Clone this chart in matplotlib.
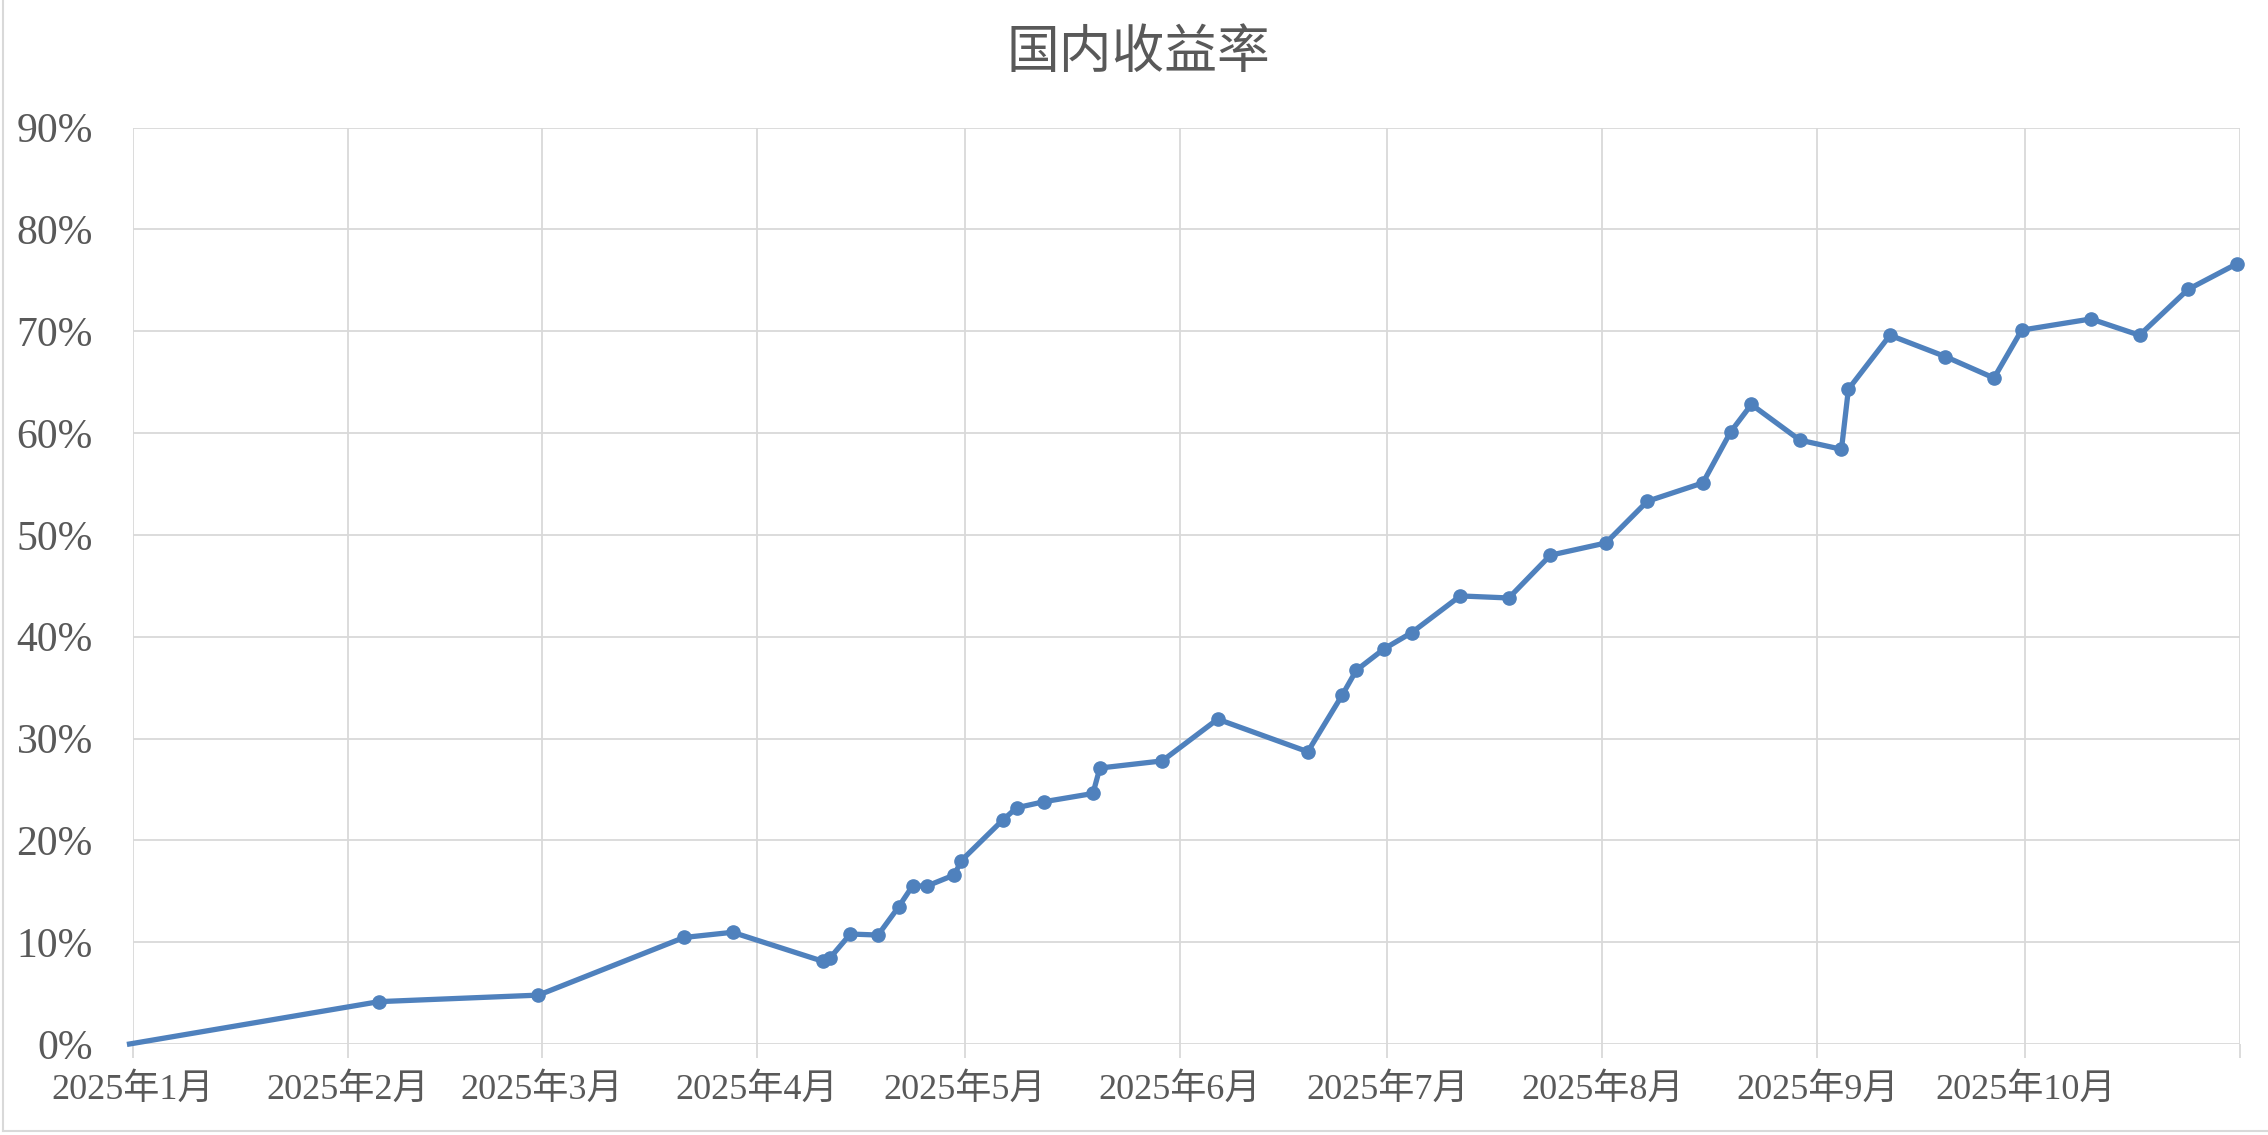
import matplotlib
matplotlib.use("Agg")
import matplotlib.pyplot as plt
from matplotlib.lines import Line2D
import pandas as pd

plt.rcParams['font.family'] = ['Liberation Serif', 'Noto Sans CJK SC', 'DejaVu Sans']

title = "国内收益率"

dates = ["2024-12-31", "2025-02-05", "2025-02-28", "2025-03-21", "2025-03-28",
         "2025-04-10", "2025-04-11", "2025-04-14", "2025-04-18", "2025-04-21",
         "2025-04-23", "2025-04-25", "2025-04-29", "2025-04-30", "2025-05-06",
         "2025-05-08", "2025-05-12", "2025-05-19", "2025-05-20", "2025-05-29",
         "2025-06-06", "2025-06-19", "2025-06-24", "2025-06-26", "2025-06-30",
         "2025-07-04", "2025-07-11", "2025-07-18", "2025-07-24", "2025-08-01",
         "2025-08-07", "2025-08-15", "2025-08-19", "2025-08-22", "2025-08-29",
         "2025-09-04", "2025-09-05", "2025-09-11", "2025-09-19", "2025-09-26",
         "2025-09-30", "2025-10-10", "2025-10-17", "2025-10-24", "2025-10-31"]

returns_pct = [0.0, 4.16, 4.8, 10.46, 10.97,
               8.13, 8.4, 10.8, 10.7, 13.5,
               15.55, 15.5, 16.6, 18.0, 22.0,
               23.2, 23.8, 24.6, 27.1, 27.8,
               31.9, 28.7, 34.3, 36.7, 38.8,
               40.4, 44.0, 43.8, 48.0, 49.2,
               53.3, 55.1, 60.1, 62.8, 59.3,
               58.4, 64.3, 69.6, 67.5, 65.4,
               70.1, 71.2, 69.6, 74.1, 76.6]

month_starts = ["2025-01-01", "2025-02-01", "2025-03-01", "2025-04-01", "2025-05-01",
                "2025-06-01", "2025-07-01", "2025-08-01", "2025-09-01", "2025-10-01",
                "2025-11-01"]
month_labels = ["2025年1月", "2025年2月", "2025年3月", "2025年4月", "2025年5月",
                "2025年6月", "2025年7月", "2025年8月", "2025年9月", "2025年10月", ""]

y_ticks = [0, 10, 20, 30, 40, 50, 60, 70, 80, 90]
y_labels = [f"{v}%" for v in y_ticks]

W, H = 2268, 1135
fig = plt.figure(figsize=(W / 100, H / 100), dpi=100)
fig.patch.set_facecolor("white")

left_px, right_px, top_px, bottom_px = 133, 2240, 127.5, 1044
ax = fig.add_axes([left_px / W, 1 - bottom_px / H,
                   (right_px - left_px) / W, (bottom_px - top_px) / H])

x = pd.to_datetime(dates) + pd.Timedelta(hours=12)
line_color = "#4F81BD"
ax.plot(x, returns_pct, color=line_color, linewidth=3.8, marker="o",
        markersize=9.5, markevery=list(range(1, len(dates))),
        clip_on=False, zorder=3, solid_joinstyle="round")

ax.set_xlim(pd.Timestamp("2025-01-01"), pd.Timestamp("2025-11-01"))
ax.set_ylim(0, 90)

grid_color = "#D9D9D9"
ax.set_xticks(pd.to_datetime(month_starts))
ax.set_xticklabels(month_labels)
ax.set_yticks(y_ticks)
ax.set_yticklabels(y_labels)

ax.grid(True, color=grid_color, linewidth=1.3, zorder=0)
ax.set_axisbelow(True)
for s in ax.spines.values():
    s.set_visible(False)

ax.tick_params(axis="x", length=10, width=1.3, color=grid_color, direction="out",
               labelsize=26, labelcolor="#595959", pad=11)
ax.tick_params(axis="y", length=0, labelsize=30, labelcolor="#595959", pad=29)

fig.text(1138 / W, 1 - 53 / H, title, ha="center", va="center",
         fontsize=38, color="#595959", family=["Noto Sans CJK SC"])

# chart area border
fig.add_artist(Line2D([3 / W, 3 / W], [1 - 1131 / H, 1.0], transform=fig.transFigure,
                      color=grid_color, linewidth=1.5))
fig.add_artist(Line2D([3 / W, 1.0], [1 - 1131 / H, 1 - 1131 / H], transform=fig.transFigure,
                      color=grid_color, linewidth=1.5))

fig.savefig("out.png", dpi=100, facecolor="white")
